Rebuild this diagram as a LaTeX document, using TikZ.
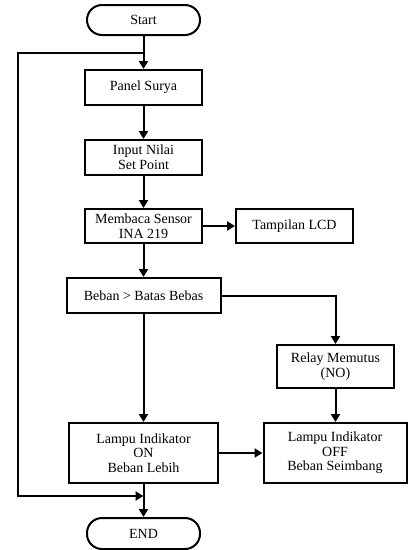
\documentclass[tikz,border=0pt]{standalone}
\usepackage{fontspec}
\setmainfont{Liberation Serif}
\usetikzlibrary{arrows.meta}
\tikzset{
  proses/.style={draw, line width=2pt, align=center, inner sep=2pt,
    font=\fontsize{14}{14.6}\selectfont},
  terminal/.style={proses, rounded corners=15pt, minimum width=113pt, minimum height=30pt},
  alur/.style={line width=2pt, -{Triangle[length=8pt,width=9pt]}}
}
\begin{document}
\begin{tikzpicture}[x=1pt,y=-1pt]
    \useasboundingbox (0,0) rectangle (408,550);
    \node[terminal] (start) at (143.5,20) {Start};
    \node[proses, minimum width=117pt, minimum height=35pt] (panel) at (143.5,87.5) {Panel Surya};
    \node[proses, minimum width=117pt, minimum height=35pt] (input) at (143.5,157.5) {Input Nilai\\Set Point};
    \node[proses, minimum width=117pt, minimum height=34pt] (sensor) at (143.5,226) {Membaca Sensor\\INA 219};
    \node[proses, minimum width=117pt, minimum height=34pt] (lcd) at (294.5,226) {Tampilan LCD};
    \node[proses, minimum width=154pt, minimum height=35pt] (beban) at (143.5,295.5) {Beban > Batas Bebas};
    \node[proses, minimum width=117pt, minimum height=43pt] (relay) at (335.5,366.5) {Relay Memutus\\(NO)};
    \node[proses, minimum width=149pt, minimum height=60pt] (on) at (143.5,453) {Lampu Indikator\\ON\\Beban Lebih};
    \node[proses, minimum width=143pt, minimum height=60pt] (off) at (335,453) {Lampu Indikator\\OFF\\Beban Seimbang};
    \node[terminal, minimum height=31pt] (end) at (143.5,533.5) {END};

    \coordinate (atas) at (143.5,53);
    \coordinate (bawah) at (143.5,496);

    \draw[alur] (start) -- (panel);
    \draw[alur] (atas) -- ++(-125.5,0) |- (bawah);
    \draw[alur] (panel) -- (input);
    \draw[alur] (input) -- (sensor);
    \draw[alur] (sensor) -- (lcd);
    \draw[alur] (sensor) -- (beban);
    \draw[alur] (beban) -- (on);
    \draw[alur] (beban.east) -| (relay.north);
    \draw[alur] (relay) -- (relay |- off.north);
    \draw[alur] (on) -- (off);
    \draw[alur] (on) -- (end);
\end{tikzpicture}
\end{document}
